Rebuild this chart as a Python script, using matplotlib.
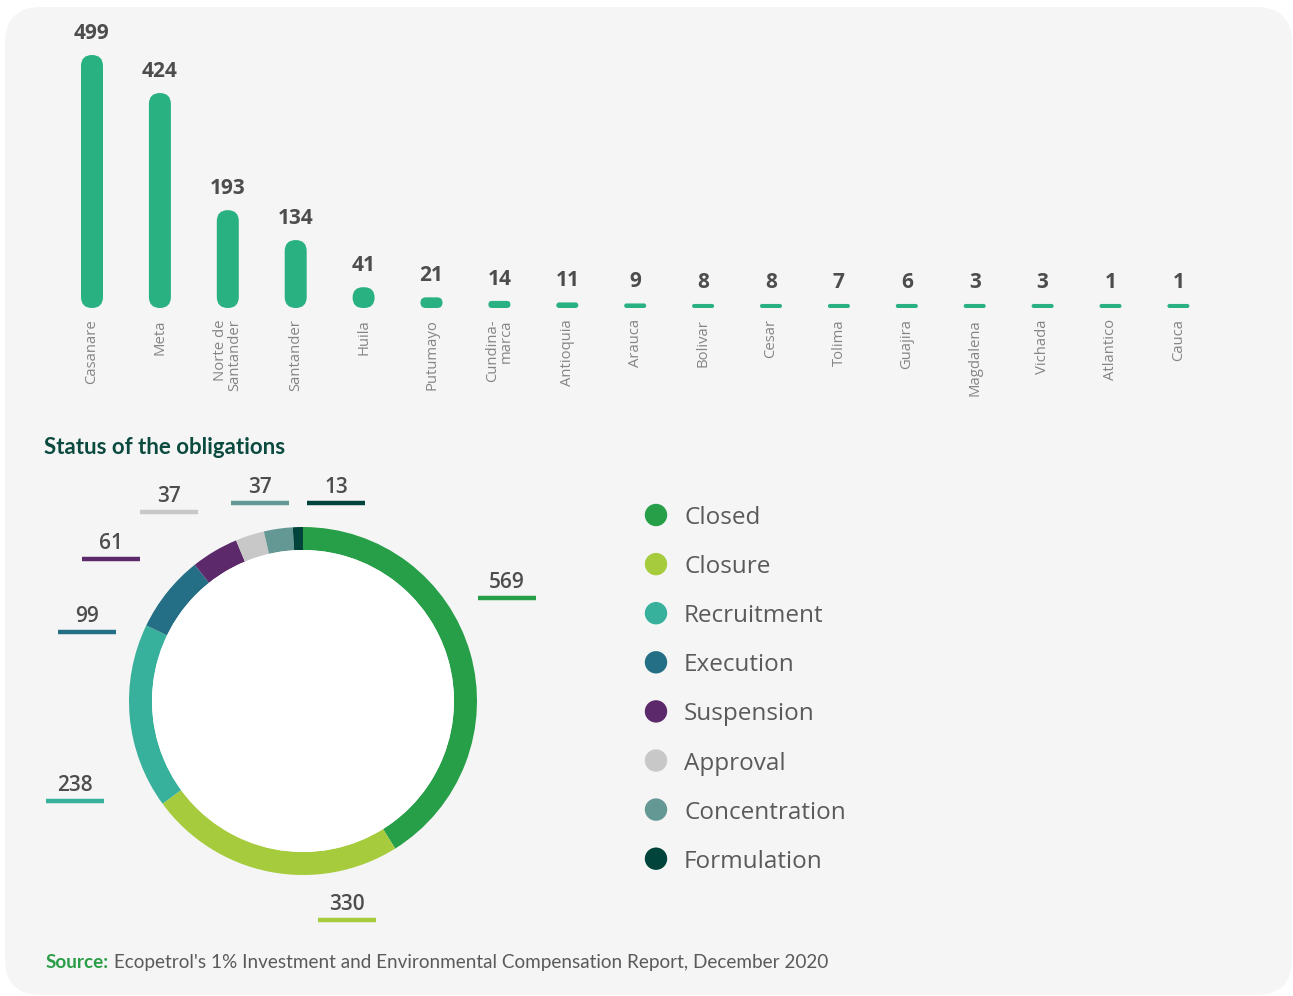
import matplotlib
matplotlib.use('Agg')
import matplotlib.pyplot as plt
from matplotlib.patches import FancyBboxPatch, Circle

# departments and number of obligations
departments = ['Casanare', 'Meta', 'Norte de\nSantander', 'Santander', 'Huila', 'Putumayo',
               'Cundina-\nmarca', 'Antioquia', 'Arauca', 'Bolivar', 'Cesar', 'Tolima',
               'Guajira', 'Magdalena', 'Vichada', 'Atlantico', 'Cauca']
obligations = [499, 424, 193, 134, 41, 21, 14, 11, 9, 8, 8, 7, 6, 3, 3, 1, 1]

# status of the obligations
statuses = ['Closed', 'Closure', 'Recruitment', 'Execution', 'Suspension',
            'Approval', 'Concentration', 'Formulation']
status_counts = [569, 330, 238, 99, 61, 37, 37, 13]
status_colors = ['#279f48', '#a6cc3e', '#37b09c', '#246f85', '#5c2a6a',
                 '#c8c8c8', '#639894', '#00443b']

W, H = 1293, 996
BAR_COLOR = '#29b182'
TEXT_DARK = '#4d4d4d'
TEXT_GRAY = '#5a5a5a'
FONT = 'Open Sans'

plt.rcParams['font.family'] = [FONT, 'DejaVu Sans']


def px_axes(fig, x0, y0, w, h):
    # axes placed with a box given in pixels from the top-left corner
    return fig.add_axes([x0 / W, 1 - (y0 + h) / H, w / W, h / H])


fig = plt.figure(figsize=(W / 100, H / 100), dpi=100, facecolor='white')

# background card, in pixel coordinates
bg = px_axes(fig, 0, 0, W, H)
bg.set_xlim(0, W)
bg.set_ylim(H, 0)
bg.axis('off')
bg.add_patch(FancyBboxPatch((5, 7), 1287, 988, boxstyle='round,pad=0,rounding_size=36',
                            facecolor='#f5f5f5', edgecolor='none'))

# ---- top: rounded bars per department ----
n = len(departments)
step_px = 67.9
ymax = 520
bar_ax = px_axes(fig, 92 - step_px / 2, 308 - ymax * 0.507, step_px * n, ymax * 0.507)
bar_ax.set_xlim(-0.5, n - 0.5)
bar_ax.set_ylim(0, ymax)
bar_ax.axis('off')

px_x = step_px                      # pixels per x unit
px_y = 0.507                        # pixels per y unit
aspect = px_x / px_y
bar_w = 22 / px_x
min_h = 8

for i, (name, v) in enumerate(zip(departments, obligations)):
    h = max(v, min_h)
    r = min(bar_w, h / aspect) / 2
    bar_ax.add_patch(FancyBboxPatch((i - bar_w / 2, 0), bar_w, h,
                                    boxstyle=f'round,pad=0,rounding_size={r}',
                                    mutation_aspect=aspect, facecolor=BAR_COLOR,
                                    edgecolor='none', clip_on=False))
    bar_ax.annotate(str(v), xy=(i, h), xytext=(0, 16), textcoords='offset pixels',
                    ha='center', va='baseline', fontsize=15, fontweight='bold',
                    color=TEXT_DARK, annotation_clip=False)
    bar_ax.annotate(name, xy=(i, 0), xytext=(0, -11), textcoords='offset pixels',
                    ha='center', va='top', rotation=90, multialignment='right',
                    fontsize=10.7, color='#858585', linespacing=0.95,
                    annotation_clip=False)

# ---- bottom: donut of statuses ----
bg.text(44, 447, 'Status of the obligations', fontsize=16, fontweight='bold',
        color='#0b4a3f', ha='left', va='center', family='Lato')

R_px = 174
ring_px = 23
half = 200
donut = px_axes(fig, 303 - half, 701 - half, 2 * half, 2 * half)
donut.pie(status_counts, colors=status_colors, startangle=90, counterclock=False,
          radius=1, wedgeprops=dict(width=ring_px / R_px, linewidth=0))
donut.add_patch(Circle((0, 0), 1 - ring_px / R_px, facecolor='white', edgecolor='none'))
donut.set_xlim(-half / R_px, half / R_px)
donut.set_ylim(-half / R_px, half / R_px)
donut.set_aspect('equal')
donut.axis('off')

# value labels with coloured underline (pixel layout)
label_pos = [(507, 598), (347, 920), (75, 801), (87, 632), (111, 559),
             (169, 512), (260, 503), (336, 503)]
for (x, y), v, c in zip(label_pos, status_counts, status_colors):
    bg.plot([x - 29, x + 29], [y, y], color=c, linewidth=3.2, solid_capstyle='butt')
    bg.text(x, y - 10, str(v), ha='center', va='baseline', fontsize=15,
            fontweight='semibold', color=TEXT_DARK)

# legend
for k, (s, c) in enumerate(zip(statuses, status_colors)):
    y = 515 + k * 49.1
    bg.scatter([656], [y], s=260, color=c, edgecolor='none')
    bg.text(684, y, s, ha='left', va='center_baseline', fontsize=17.5, color=TEXT_GRAY)

# source note
src = bg.text(46, 962, 'Source:', ha='left', va='center', fontsize=13.6,
              fontweight='bold', color='#2a9d47', family='Lato')
bg.annotate(" Ecopetrol's 1% Investment and Environmental Compensation Report, December 2020",
            xy=(1, 0), xycoords=src, va='bottom', ha='left', fontsize=13.6,
            color=TEXT_GRAY, family='Lato')

fig.savefig('out.png', dpi=100, facecolor='white')
